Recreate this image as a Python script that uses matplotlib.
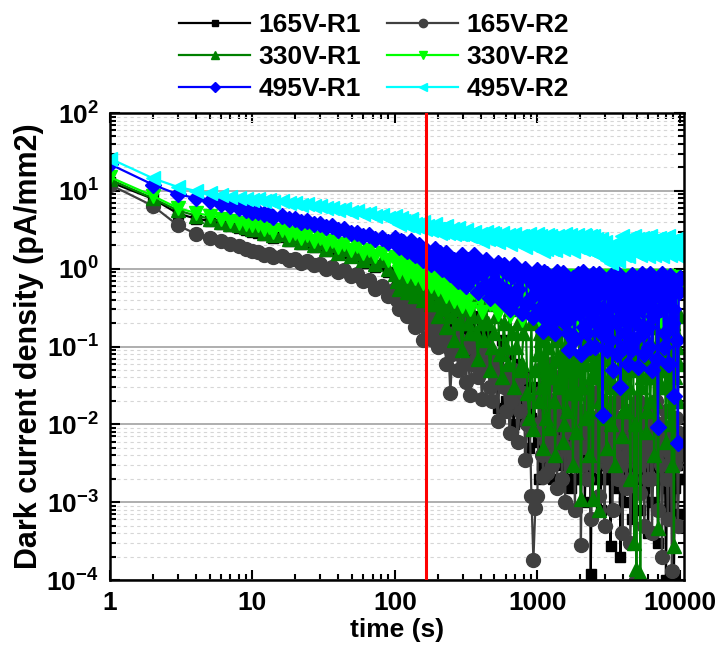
import math
import matplotlib
matplotlib.use("Agg")
import matplotlib.pyplot as plt
from matplotlib.ticker import FixedLocator, FuncFormatter, LogLocator, NullFormatter

# time points (s), grouped by decade
t_a = [1, 2, 3, 4, 5, 6, 7, 8, 9, 10]
t_b = [11, 12, 13, 14, 16, 18, 20, 22, 24, 27, 30, 33, 36, 40, 44, 49, 54, 60, 66, 73, 81, 90]
t_c = [100, 107, 114, 121, 129, 138, 147, 157, 167, 178,
       190, 202, 215, 230, 245, 261, 278, 297, 316, 337,
       359, 383, 408, 435, 464, 494, 527, 562, 599, 638,
       681, 726, 774, 825, 879, 938]
t_d = [1000, 1032, 1066, 1101, 1136, 1173, 1212, 1251, 1292, 1334,
       1377, 1422, 1468, 1516, 1565, 1616, 1668, 1723, 1778, 1836,
       1896, 1957, 2021, 2087, 2154, 2224, 2296, 2371, 2448, 2528,
       2610, 2694, 2782, 2873, 2966, 3062, 3162, 3265, 3371, 3481,
       3594, 3711, 3831, 3956, 4084, 4217, 4354, 4496, 4642, 4793,
       4948, 5109, 5275, 5447, 5623, 5806, 5995, 6190, 6391, 6598,
       6813, 7034, 7263, 7499, 7743, 7994, 8254, 8522, 8799, 9085,
       9380, 9685, 10000]
# readings in between the ones above (dense noisy part)
t_c2 = [103, 110, 117, 125, 133, 142, 152, 162, 172, 184,
        196, 208, 222, 237, 253, 269, 287, 306, 326, 348,
        371, 395, 421, 449, 479, 510, 544, 580, 618, 659,
        703, 750, 799, 852, 908, 968]
t_d2 = [1016, 1049, 1083, 1118, 1155, 1192, 1231, 1271, 1313, 1355,
        1399, 1445, 1492, 1540, 1590, 1642, 1695, 1750, 1807, 1866,
        1926, 1989, 2054, 2120, 2189, 2260, 2334, 2410, 2488, 2569,
        2652, 2738, 2827, 2919, 3014, 3112, 3213, 3317, 3425, 3536,
        3652, 3770, 3893, 4019, 4150, 4285, 4424, 4567, 4716, 4870,
        5028, 5191, 5360, 5534, 5714, 5900, 6092, 6290, 6494, 6705,
        6923, 7148, 7381, 7621, 7868, 8124, 8388, 8660, 8942, 9232,
        9532, 9842]
time = t_a + t_b + t_c + t_d
time_x = t_c2 + t_d2

# dark current density (pA/mm2)
r1_165 = [13, 7.9, 5.1, 4.4, 4.1, 3.8, 3.5, 3.3, 3.1, 3.0,
          2.9, 2.7, 2.75, 2.5, 2.55, 2.3, 2.35, 2.1, 2.15, 1.9,
          1.95, 1.7, 1.75, 1.55, 1.6, 1.4, 1.45, 1.2, 1.25, 1.05,
          1.1, 0.9,
          0.85, 0.65, 0.8, 0.6, 0.75, 0.5, 0.7, 0.45, 0.6, 0.35,
          0.5, 0.25, 0.45, 0.2, 0.4, 0.15, 0.35, 0.1, 0.3, 0.08,
          0.25, 0.06, 0.2, 0.05, 0.15, 0.03, 0.016, 0.12, 0.02, 0.08,
          0.01, 0.06, 0.011, 0.04, 0.005, 0.03,
          0.01, 0.002, 0.02, 0.004, 0.003, 0.012, 0.006, 0.02, 0.002, 0.008,
          0.015, 0.003, 0.01, 0.005, 0.018, 0.002, 0.008, 0.0015, 0.012, 0.004,
          0.01, 0.002, 0.015, 0.006, 0.001, 0.01, 0.004, 0.00012, 0.008, 0.002,
          0.012, 0.003, 0.0008, 0.008, 0.002, 0.01, 0.004, 0.00027, 0.006, 0.0015,
          0.008, 0.003, 0.0002, 0.006, 0.001, 0.008, 0.002, 0.005, 0.0006, 0.007,
          0.002, 0.004, 0.0008, 0.006, 0.0015, 0.005, 0.0004, 0.004, 0.001, 0.006,
          0.002, 0.0003, 0.004, 0.0008, 0.003, 0.0001, 0.005, 0.0006, 0.002, 0.0001,
          0.003, 0.0007, 0.002]
r1_165_x = [0.75, 0.7, 0.65, 0.7, 0.6, 0.65, 0.55, 0.6, 0.45, 0.5,
            0.4, 0.35, 0.3, 0.3, 0.25, 0.25, 0.2, 0.2, 0.15, 0.15,
            0.12, 0.12, 0.1, 0.08, 0.07, 0.06, 0.05, 0.05, 0.04, 0.03,
            0.03, 0.02, 0.02, 0.015, 0.012, 0.01,
            0.006, 0.01, 0.003, 0.008, 0.005, 0.004, 0.01, 0.003, 0.006, 0.012,
            0.004, 0.007, 0.002, 0.009, 0.005, 0.003, 0.006, 0.004, 0.008, 0.002,
            0.005, 0.007, 0.003, 0.006, 0.004, 0.002, 0.006, 0.003, 0.005, 0.007,
            0.002, 0.005, 0.004, 0.003, 0.006, 0.002, 0.004, 0.005, 0.003, 0.006,
            0.002, 0.004, 0.003, 0.005, 0.002, 0.004, 0.003, 0.006, 0.002, 0.004,
            0.003, 0.005, 0.002, 0.003, 0.004, 0.002, 0.005, 0.003, 0.002, 0.004,
            0.003, 0.002, 0.004, 0.002, 0.003, 0.0015, 0.004, 0.002, 0.003, 0.0015,
            0.003, 0.002]
r2_165 = [12, 6.4, 3.6, 2.8, 2.5, 2.3, 2.1, 1.95, 1.8, 1.7,
          1.65, 1.5, 1.55, 1.4, 1.45, 1.3, 1.35, 1.2, 1.25, 1.1,
          1.15, 1.0, 1.05, 0.9, 0.95, 0.8, 0.85, 0.7, 0.72, 0.55,
          0.6, 0.45,
          0.55, 0.3, 0.45, 0.25, 0.4, 0.18, 0.35, 0.12, 0.3, 0.15,
          0.25, 0.1, 0.2, 0.06, 0.025, 0.15, 0.05, 0.2, 0.035, 0.024,
          0.12, 0.04, 0.021, 0.1, 0.03, 0.07, 0.011, 0.08, 0.015, 0.0077,
          0.05, 0.006, 0.04, 0.0035, 0.02, 0.00018,
          0.0012, 0.05, 0.008, 0.0021, 0.03, 0.0024, 0.015, 0.06, 0.004, 0.02,
          0.0015, 0.04, 0.006, 0.025, 0.001, 0.012, 0.045, 0.003, 0.02, 0.0008,
          0.035, 0.005, 0.00028, 0.015, 0.03, 0.002, 0.01, 0.0006, 0.025, 0.004,
          0.04, 0.0012, 0.008, 0.02, 0.0005, 0.015, 0.003, 0.03, 0.0008, 0.01,
          0.02, 0.002, 0.006, 0.0004, 0.025, 0.0015, 0.01, 0.0003, 0.015, 0.004,
          0.0001, 0.02, 0.0013, 0.008, 0.0005, 0.015, 0.002, 0.012, 0.0004, 0.006,
          0.02, 0.0008, 0.01, 0.0002, 0.005, 0.015, 0.0006, 0.008, 0.00013, 0.003,
          0.012, 0.0005, 0.006]
r2_165_x = [0.4, 0.45, 0.35, 0.3, 0.25, 0.3, 0.2, 0.25, 0.2, 0.12,
            0.15, 0.18, 0.12, 0.1, 0.08, 0.1, 0.12, 0.06, 0.1, 0.06,
            0.07, 0.08, 0.05, 0.06, 0.02, 0.04, 0.05, 0.03, 0.04, 0.02,
            0.03, 0.015, 0.025, 0.01, 0.0012, 0.00085,
            0.01, 0.025, 0.004, 0.012, 0.006, 0.04, 0.008, 0.003, 0.015, 0.006,
            0.03, 0.01, 0.002, 0.02, 0.005, 0.008, 0.015, 0.004, 0.01, 0.025,
            0.006, 0.012, 0.003, 0.008, 0.015, 0.005, 0.02, 0.009, 0.003, 0.012,
            0.006, 0.02, 0.004, 0.01, 0.007, 0.003, 0.012, 0.005, 0.018, 0.004,
            0.008, 0.012, 0.003, 0.01, 0.006, 0.004, 0.015, 0.002, 0.008, 0.005,
            0.012, 0.003, 0.007, 0.01, 0.004, 0.006, 0.009, 0.002, 0.008, 0.004,
            0.006, 0.01, 0.003, 0.007, 0.005, 0.002, 0.009, 0.004, 0.006, 0.003,
            0.008, 0.004]
r1_330 = [14, 8.0, 5.6, 4.8, 4.4, 4.0, 3.8, 3.6, 3.4, 3.2,
          3.2, 2.9, 3.0, 2.7, 2.8, 2.4, 2.6, 2.2, 2.4, 2.0,
          2.2, 1.8, 2.0, 1.6, 1.8, 1.45, 1.6, 1.3, 1.45, 1.15,
          1.3, 1.0,
          0.85, 0.55, 0.7, 0.5, 0.75, 0.45, 0.6, 0.4, 0.65, 0.35,
          0.5, 0.25, 0.55, 0.18, 0.4, 0.12, 0.45, 0.09, 0.3, 0.15,
          0.4, 0.07, 0.2, 0.35, 0.05, 0.15, 0.38, 0.04, 0.1, 0.3,
          0.03, 0.2, 0.06, 0.32, 0.012, 0.0088,
          0.3, 0.02, 0.12, 0.005, 0.06, 0.25, 0.009, 0.04, 0.15, 0.004,
          0.2, 0.03, 0.08, 0.006, 0.28, 0.015, 0.1, 0.05, 0.003, 0.18,
          0.025, 0.07, 0.0011, 0.22, 0.012, 0.12, 0.004, 0.04, 0.0011, 0.25,
          0.06, 0.0008, 0.15, 0.02, 0.09, 0.005, 0.2, 0.01, 0.05, 0.003,
          0.25, 0.03, 0.12, 0.007, 0.18, 0.015, 0.06, 0.002, 0.22, 0.0003,
          0.00014, 0.1, 0.00012, 0.04, 0.15, 0.008, 0.25, 0.02, 0.07, 0.004,
          0.18, 0.00047, 0.1, 0.03, 0.2, 0.006, 0.12, 0.05, 0.003, 0.00027,
          0.15, 0.02, 0.25]
r1_330_x = [0.7, 0.6, 0.65, 0.55, 0.5, 0.6, 0.5, 0.55, 0.45, 0.5,
            0.35, 0.4, 0.3, 0.35, 0.25, 0.3, 0.2, 0.3, 0.2, 0.25,
            0.15, 0.25, 0.12, 0.2, 0.1, 0.25, 0.08, 0.2, 0.06, 0.15,
            0.1, 0.05, 0.15, 0.025, 0.2, 0.05,
            0.08, 0.15, 0.03, 0.2, 0.012, 0.1, 0.05, 0.25, 0.02, 0.07,
            0.12, 0.04, 0.18, 0.01, 0.06, 0.2, 0.025, 0.09, 0.15, 0.008,
            0.05, 0.18, 0.03, 0.1, 0.06, 0.2, 0.015, 0.08, 0.12, 0.04,
            0.15, 0.02, 0.07, 0.2, 0.012, 0.1, 0.04, 0.15, 0.03, 0.08,
            0.12, 0.05, 0.2, 0.015, 0.08, 0.1, 0.03, 0.15, 0.05, 0.01,
            0.08, 0.2, 0.03, 0.12, 0.06, 0.015, 0.1, 0.04, 0.18, 0.02,
            0.07, 0.12, 0.03, 0.1, 0.05, 0.15, 0.01, 0.08, 0.2, 0.04,
            0.1, 0.06]
r2_330 = [15, 8.6, 6.0, 5.2, 4.8, 4.4, 4.1, 3.9, 3.7, 3.6,
          3.6, 3.2, 3.4, 3.0, 3.1, 2.7, 2.9, 2.5, 2.7, 2.3,
          2.5, 2.1, 2.3, 1.9, 2.1, 1.75, 1.95, 1.6, 1.75, 1.45,
          1.6, 1.3,
          1.4, 0.9, 1.15, 0.8, 1.2, 0.75, 0.95, 0.65, 1.0, 0.6,
          0.85, 0.55, 0.7, 0.45, 0.8, 0.38, 0.6, 0.33, 0.72, 0.3,
          0.5, 0.75, 0.28, 0.6, 0.35, 0.75, 0.26, 0.5, 0.7, 0.25,
          0.4, 0.75, 0.22, 0.6, 0.3, 0.8,
          0.8, 0.25, 0.55, 0.18, 0.78, 0.4, 0.3, 0.8, 0.2, 0.6,
          0.35, 0.78, 0.22, 0.5, 0.8, 0.28, 0.7, 0.13, 0.45, 0.8,
          0.2, 0.6, 0.78, 0.3, 0.4, 0.8, 0.18, 0.55, 0.78, 0.25,
          0.65, 0.8, 0.35, 0.2, 0.78, 0.5, 0.28, 0.8, 0.6, 0.22,
          0.78, 0.4, 0.3, 0.8, 0.18, 0.55, 0.78, 0.25, 0.7, 0.8,
          0.35, 0.2, 0.78, 0.5, 0.3, 0.8, 0.6, 0.22, 0.78, 0.4,
          0.28, 0.8, 0.55, 0.2, 0.78, 0.35, 0.8, 0.6, 0.25, 0.78,
          0.45, 0.7, 0.65]
r2_330_x = [1.1, 1.3, 0.95, 1.0, 0.85, 1.05, 0.8, 0.9, 0.7, 0.8,
            0.65, 0.75, 0.55, 0.65, 0.5, 0.6, 0.45, 0.55, 0.4, 0.6,
            0.65, 0.4, 0.5, 0.7, 0.45, 0.3, 0.65, 0.4, 0.35, 0.55,
            0.65, 0.3, 0.5, 0.7, 0.4, 0.55,
            0.4, 0.7, 0.3, 0.6, 0.25, 0.5, 0.75, 0.35, 0.45, 0.8,
            0.25, 0.55, 0.7, 0.3, 0.4, 0.6, 0.2, 0.75, 0.35, 0.5,
            0.7, 0.28, 0.45, 0.8, 0.2, 0.6, 0.35, 0.7, 0.4, 0.5,
            0.3, 0.6, 0.75, 0.25, 0.45, 0.65, 0.35, 0.5, 0.8, 0.3,
            0.55, 0.7, 0.2, 0.45, 0.6, 0.35, 0.5, 0.75, 0.3, 0.4,
            0.65, 0.8, 0.25, 0.45, 0.7, 0.35, 0.5, 0.6, 0.3, 0.75,
            0.4, 0.55, 0.35, 0.7, 0.45, 0.6, 0.3, 0.5, 0.75, 0.4,
            0.6, 0.5]
r1_495 = [22, 12, 9.0, 8.1, 7.4, 6.8, 6.4, 6.0, 5.7, 5.4,
          5.3, 5.0, 5.0, 4.6, 4.7, 4.3, 4.4, 4.0, 4.1, 3.7,
          3.8, 3.4, 3.5, 3.1, 3.2, 2.9, 2.9, 2.6, 2.7, 2.4,
          2.5, 2.2,
          2.5, 1.9, 2.2, 1.7, 2.3, 1.5, 2.0, 1.3, 1.7, 1.15,
          1.8, 1.4, 1.0, 1.6, 0.85, 1.3, 0.7, 1.5, 0.6, 1.1,
          1.5, 0.5, 0.85, 1.3, 0.42, 0.7, 1.2, 0.38, 0.9, 0.3,
          1.1, 0.55, 0.27, 1.0, 0.4, 0.24,
          0.95, 0.3, 0.6, 0.16, 0.45, 0.85, 0.22, 0.7, 0.38, 0.15,
          0.9, 0.5, 0.25, 0.88, 0.2, 0.5, 0.09, 0.34, 0.75, 0.13,
          0.6, 0.27, 0.08, 0.9, 0.4, 0.15, 0.7, 0.22, 0.85, 0.1,
          0.45, 0.85, 0.15, 0.013, 0.5, 0.09, 0.3, 0.8, 0.05, 0.6,
          0.2, 0.85, 0.03, 0.4, 0.1, 0.7, 0.06, 0.25, 0.82, 0.12,
          0.5, 0.055, 0.35, 0.85, 0.08, 0.6, 0.18, 0.85, 0.05, 0.3,
          0.7, 0.0093, 0.45, 0.85, 0.1, 0.55, 0.06, 0.8, 0.2, 0.023,
          0.65, 0.0057, 0.75]
r1_495_x = [2.1, 2.3, 1.8, 2.0, 1.6, 1.8, 1.5, 1.6, 1.4, 1.5,
            1.2, 1.6, 1.3, 1.1, 1.3, 0.9, 1.2, 0.8, 1.3, 0.75,
            0.9, 1.1, 0.6, 0.55, 1.0, 0.5, 0.6, 1.1, 0.5, 0.8,
            0.4, 0.75, 0.9, 0.35, 0.7, 0.6,
            0.5, 0.75, 0.25, 0.9, 0.3, 0.55, 0.4, 0.2, 0.8, 0.6,
            0.3, 0.75, 0.5, 0.4, 0.7, 0.15, 0.6, 0.25, 0.12, 0.45,
            0.85, 0.3, 0.55, 0.18, 0.65, 0.35, 0.1, 0.5, 0.3, 0.75,
            0.2, 0.6, 0.3, 0.7, 0.2, 0.55, 0.12, 0.45, 0.7, 0.35,
            0.08, 0.5, 0.25, 0.65, 0.15, 0.4, 0.6, 0.09, 0.35, 0.7,
            0.2, 0.5, 0.3, 0.15, 0.65, 0.4, 0.1, 0.55, 0.25, 0.7,
            0.07, 0.45, 0.3, 0.6, 0.15, 0.4, 0.06, 0.5, 0.3, 0.7,
            0.12, 0.5]
r2_495 = [26, 14.5, 11.2, 10.0, 9.3, 8.8, 8.4, 8.1, 7.8, 7.6,
          7.8, 7.5, 7.6, 7.2, 7.3, 6.9, 7.0, 6.6, 6.7, 6.3,
          6.4, 6.0, 6.1, 5.7, 5.8, 5.4, 5.5, 5.1, 5.2, 4.8,
          4.9, 4.5,
          4.7, 3.8, 4.1, 3.6, 4.4, 3.8, 3.4, 4.0, 3.5, 3.1,
          3.7, 3.2, 3.0, 3.5, 3.0, 2.8, 3.3, 2.8, 3.1, 2.6,
          3.0, 2.6, 2.3, 3.0, 2.5, 2.8, 2.2, 2.9, 2.4, 2.1,
          2.8, 2.3, 2.6, 1.9, 2.8, 2.2,
          2.8, 2.0, 2.4, 1.7, 2.2, 2.7, 1.9, 2.5, 2.1, 1.75,
          2.6, 2.0, 2.3, 1.8, 2.8, 2.2, 1.9, 2.5, 1.7, 2.3,
          2.7, 2.0, 2.4, 1.8, 2.6, 2.1, 1.75, 2.5, 2.6, 1.6,
          2.2, 1.5, 2.4, 1.8, 2.2, 1.3, 1.9, 1.2, 2.0, 1.5,
          2.2, 1.25, 1.8, 2.6, 1.5, 2.1, 1.45, 2.4, 1.8, 2.6,
          1.6, 2.2, 1.5, 2.5, 1.7, 2.3, 1.45, 2.6, 1.9, 1.5,
          2.4, 1.6, 2.2, 1.45, 2.5, 1.8, 2.6, 1.5, 2.1, 1.6,
          2.4, 1.45, 2.3]
r2_495_x = [4.0, 4.5, 3.7, 3.9, 3.4, 3.5, 3.7, 3.2, 3.3, 3.4,
            3.2, 2.9, 3.4, 2.9, 3.2, 2.9, 2.8, 3.0, 2.7, 2.9,
            2.5, 2.8, 2.7, 2.4, 2.9, 2.3, 2.6, 2.5, 2.7, 2.4,
            2.2, 2.6, 2.3, 2.5, 2.0, 2.6,
            2.3, 2.6, 1.9, 2.5, 1.8, 2.1, 2.6, 1.8, 2.4, 2.2,
            2.0, 2.5, 1.9, 2.7, 2.1, 2.4, 2.7, 1.8, 2.2, 2.6,
            1.9, 2.5, 2.1, 2.7, 1.9, 2.3, 2.6, 2.0,
            2.0, 2.4, 1.7, 2.1, 2.0, 1.6,
            1.6, 1.9, 1.4, 1.6, 1.7, 1.9, 1.4, 1.7, 2.0,
            2.0, 2.3, 1.7, 2.5, 1.9, 2.2, 1.9, 2.4, 1.8, 2.3,
            2.0, 2.5, 1.8, 2.1, 2.3, 1.7, 2.2, 2.0, 2.5, 1.8,
            2.2, 2.0, 2.4, 1.9, 2.3, 1.8, 2.0, 2.2, 1.9]

labels = ["165V-R1", "165V-R2", "330V-R1", "330V-R2", "495V-R1", "495V-R2"]
red_line_t = 165


def merge(vals, vals_x):
    # put the in-between readings back in time order
    pairs = sorted(zip(time + time_x, vals + vals_x))
    return [p[0] for p in pairs], [p[1] for p in pairs]


def main():
    plt.rcParams['font.family'] = ['Liberation Sans', 'DejaVu Sans']
    plt.rcParams['font.weight'] = 'bold'
    plt.rcParams['mathtext.fontset'] = 'custom'
    plt.rcParams['mathtext.rm'] = 'Liberation Sans:bold'
    plt.rcParams['mathtext.bf'] = 'Liberation Sans:bold'

    data = [(r1_165, r1_165_x), (r2_165, r2_165_x), (r1_330, r1_330_x),
            (r2_330, r2_330_x), (r1_495, r1_495_x), (r2_495, r2_495_x)]
    colors = ["#000000", "#404040", "#008000", "#00ff00", "#0000ff", "#00ffff"]
    markers = ["s", "o", "^", "v", "D", "<"]
    sizes = [7.5, 10.0, 10.0, 10.0, 8.5, 10.0]
    for d, dx in data:
        assert len(d) == len(time), len(d)
        assert len(dx) == len(time_x), len(dx)

    fig = plt.figure(figsize=(7.19, 6.5), dpi=100)
    ax = fig.add_axes([110 / 719, 70 / 650, 574 / 719, 467 / 650])

    lines = []
    for (d, dx), c, m, s, lab in zip(data, colors, markers, sizes, labels):
        tt, vv = merge(d, dx)
        ln, = ax.plot(tt, vv, color=c, marker=m, ms=s, mec=c, mfc=c,
                      lw=1.6, label=lab)
        lines.append(ln)

    ax.axvline(red_line_t, color="#ff0000", lw=2.2, zorder=10)

    ax.set_xscale("log")
    ax.set_yscale("log")
    ax.set_xlim(1, 10700)
    ax.set_ylim(1e-4, 1e2)

    ax.xaxis.set_major_locator(FixedLocator([1, 10, 100, 1000, 10000]))
    ax.xaxis.set_major_formatter(FuncFormatter(lambda v, p: "%d" % round(v)))
    ax.xaxis.set_minor_locator(LogLocator(base=10, subs=range(2, 10), numticks=20))
    ax.xaxis.set_minor_formatter(NullFormatter())
    ax.yaxis.set_major_locator(FixedLocator([1e-4, 1e-3, 1e-2, 1e-1, 1, 10, 100]))
    ax.yaxis.set_major_formatter(FuncFormatter(
        lambda v, p: r"$\mathbf{10^{%d}}$" % round(math.log10(v))))
    ax.yaxis.set_minor_locator(LogLocator(base=10, subs=range(2, 10), numticks=20))
    ax.yaxis.set_minor_formatter(NullFormatter())

    ax.yaxis.grid(True, which="major", color="#a8a8a8", lw=1.3, ls="-")
    ax.yaxis.grid(True, which="minor", color="#d6d6d6", lw=0.8, ls=(0, (3, 3)))
    ax.set_axisbelow(True)

    for sp in ax.spines.values():
        sp.set_linewidth(1.8)
    ax.tick_params(which="both", direction="in", top=True, right=True, width=1.5)
    ax.tick_params(which="major", length=7, labelsize=19, pad=8)
    ax.tick_params(which="minor", length=4)

    ax.set_xlabel("time (s)", fontsize=19, fontweight="bold", labelpad=2)
    ax.set_ylabel("Dark current density (pA/mm2)", fontsize=22,
                  fontweight="bold", labelpad=2)

    order = [0, 2, 4, 1, 3, 5]
    fig.legend([lines[i] for i in order], [labels[i] for i in order],
               loc="center", bbox_to_anchor=(374 / 719, 1 - 57 / 650),
               ncol=2, frameon=False, fontsize=19, handlelength=2.7,
               handletextpad=0.3, columnspacing=1.0, labelspacing=0.3,
               markerscale=0.6)

    fig.savefig("out.png", dpi=100)


if __name__ == "__main__":
    main()
